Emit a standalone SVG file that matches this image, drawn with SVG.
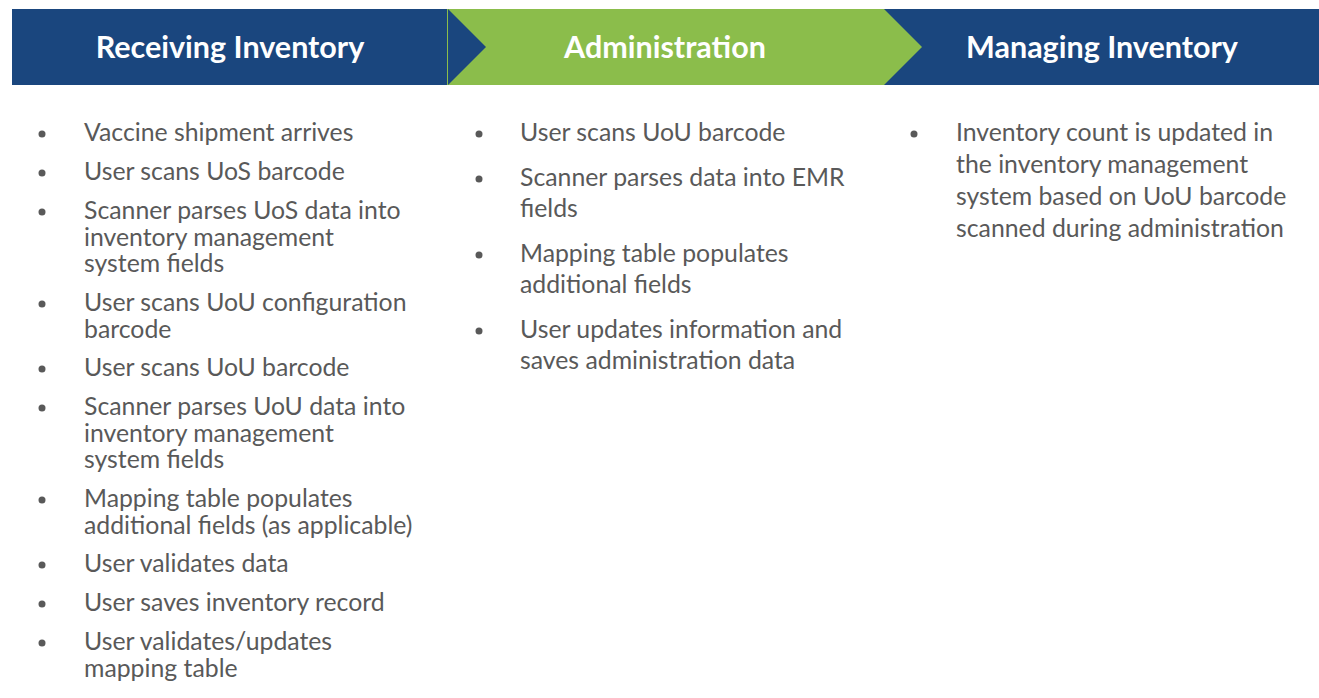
<svg xmlns="http://www.w3.org/2000/svg" width="1319" height="698" viewBox="0 0 1319 698">
<style>
.hd{font-family:Lato,"Open Sans","Liberation Sans",sans-serif;font-weight:bold;font-size:30.5px;fill:#ffffff;text-anchor:middle}
.tx{font-family:Lato,"Open Sans","Liberation Sans",sans-serif;font-size:24.8px;fill:#595959}
.bl{fill:#595959}
</style>
<rect width="1319" height="698" fill="#ffffff"/>
<g id="header">
<rect x="12" y="9" width="1307" height="76" fill="#1a467e"/>
<polygon points="448,9 884,9 922,47 884,85 448,85 486,47" fill="#8bbd4b"/>
<line x1="447.5" y1="9" x2="447.5" y2="85" stroke="#8bbd4b" stroke-width="1"/>
</g>
<g id="col-receiving">
<text class="hd" x="230" y="57.5">Receiving Inventory</text>
<circle class="bl" cx="42" cy="134" r="3.5"/><text class="tx" x="84" y="141">Vaccine shipment arrives</text>
<circle class="bl" cx="42" cy="173" r="3.5"/><text class="tx" x="84" y="180">User scans UoS barcode</text>
<circle class="bl" cx="42" cy="212" r="3.5"/><text class="tx" x="84" y="219">Scanner parses UoS data into</text>
<text class="tx" x="84" y="245.5">inventory management</text>
<text class="tx" x="84" y="272">system fields</text>
<circle class="bl" cx="42" cy="304" r="3.5"/><text class="tx" x="84" y="311">User scans UoU configuration</text>
<text class="tx" x="84" y="337.5">barcode</text>
<circle class="bl" cx="42" cy="369" r="3.5"/><text class="tx" x="84" y="376">User scans UoU barcode</text>
<circle class="bl" cx="42" cy="408" r="3.5"/><text class="tx" x="84" y="415">Scanner parses UoU data into</text>
<text class="tx" x="84" y="441.5">inventory management</text>
<text class="tx" x="84" y="468">system fields</text>
<circle class="bl" cx="42" cy="500" r="3.5"/><text class="tx" x="84" y="507">Mapping table populates</text>
<text class="tx" x="84" y="533.5">additional fields (as applicable)</text>
<circle class="bl" cx="42" cy="565" r="3.5"/><text class="tx" x="84" y="572">User validates data</text>
<circle class="bl" cx="42" cy="604" r="3.5"/><text class="tx" x="84" y="611">User saves inventory record</text>
<circle class="bl" cx="42" cy="643" r="3.5"/><text class="tx" x="84" y="650">User validates/updates</text>
<text class="tx" x="84" y="676.5">mapping table</text>
</g>
<g id="col-administration">
<text class="hd" x="665" y="57.5">Administration</text>
<circle class="bl" cx="479" cy="134" r="3.5"/><text class="tx" x="520" y="141">User scans UoU barcode</text>
<circle class="bl" cx="479" cy="179" r="3.5"/><text class="tx" x="520" y="186">Scanner parses data into EMR</text>
<text class="tx" x="520" y="217">fields</text>
<circle class="bl" cx="479" cy="255" r="3.5"/><text class="tx" x="520" y="262">Mapping table populates</text>
<text class="tx" x="520" y="293">additional fields</text>
<circle class="bl" cx="479" cy="331" r="3.5"/><text class="tx" x="520" y="338">User updates information and</text>
<text class="tx" x="520" y="369">saves administration data</text>
</g>
<g id="col-managing">
<text class="hd" x="1102" y="57.5">Managing Inventory</text>
<circle class="bl" cx="914" cy="134" r="3.5"/><text class="tx" x="956" y="141">Inventory count is updated in</text>
<text class="tx" x="956" y="173">the inventory management</text>
<text class="tx" x="956" y="205">system based on UoU barcode</text>
<text class="tx" x="956" y="237">scanned during administration</text>
</g>
<g id="connectors"/>
</svg>
